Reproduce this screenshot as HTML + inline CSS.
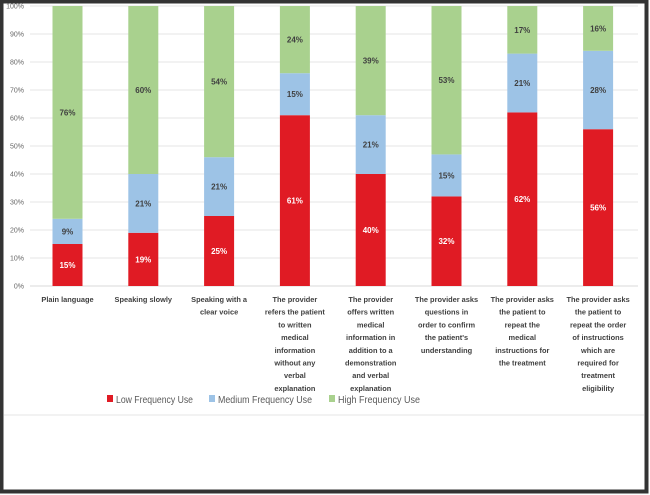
<!DOCTYPE html>
<html><head><meta charset="utf-8"><style>
body{margin:0;background:#fff;}
#wrap{position:relative;width:650px;height:495px;overflow:hidden;}
svg text{font-family:"Liberation Sans",sans-serif;}
</style></head><body>
<div id="wrap">
<svg id="chart" width="650" height="495">
<rect x="1.5" y="1.5" width="645" height="490" fill="#fff" stroke="#333" stroke-width="4"/>
<line x1="4" y1="415" x2="644" y2="415" stroke="#eee" stroke-width="1.5"/>
</svg>
</div>
<script>
const categories=[["Plain language"],["Speaking slowly"],["Speaking with a","clear voice"],["The provider","refers the patient","to written","medical","information","without any","verbal","explanation"],["The provider","offers written","medical","information in","addition to a","demonstration","and verbal","explanation"],["The provider asks","questions in","order to confirm","the patient's","understanding"],["The provider asks","the patient to","repeat the","medical","instructions for","the treatment"],["The provider asks","the patient to","repeat the order","of instructions","which are","required for","treatment","eligibility"]];
const lowValues=[15,19,25,61,40,32,62,56];
const mediumValues=[9,21,21,15,21,15,21,28];
const highValues=[76,60,54,24,39,53,17,16];
const yTicks=[0,10,20,30,40,50,60,70,80,90,100];
const seriesNames=["Low Frequency Use","Medium Frequency Use","High  Frequency Use"];

const NS="http://www.w3.org/2000/svg";
const svg=document.getElementById('chart');
const y0=286,y1=6,plotL=30,plotR=638;
const yScale=v=>y0-(y0-y1)*v/100;
const xCenter=i=>67.5+i*75.8;
const barW=30;
const colors=["#e01b24","#9dc3e6","#a9d18e"];
const labelColors=["#fff","#404040","#404040"];
function mk(tag,attrs){const e=document.createElementNS(NS,tag);for(const k in attrs)e.setAttribute(k,attrs[k]);svg.appendChild(e);return e;}

yTicks.forEach(t=>{
  const y=yScale(t);
  const g=mk('line',{x1:plotL,x2:plotR,y1:y,y2:y,stroke:t===0?'#d9d9d9':'#e6e6e6','stroke-width':1});
  
  
  const tx=mk('text',{x:24,y:y+2.5,'text-anchor':'end','font-size':7,fill:'#666'});
  tx.textContent=t+'%';
  
  
});

const series=[lowValues,mediumValues,highValues];
categories.forEach((cat,i)=>{
  let acc=0;
  series.forEach((arr,s)=>{
    const v=arr[i];
    const yt=yScale(acc+v),yb=yScale(acc);
    const r=mk('rect',{x:xCenter(i)-barW/2,y:yt,width:barW,height:yb-yt,fill:colors[s]});
    
    
    const t=mk('text',{x:xCenter(i),y:(yt+yb)/2+3,'text-anchor':'middle','font-size':8,'font-weight':'bold',fill:labelColors[s]});
    t.textContent=v+'%';
    
    
    acc+=v;
  });
  cat.forEach((line,j)=>{
    const t=mk('text',{x:xCenter(i),y:302+j*12.7,'text-anchor':'middle','font-size':7.4,'font-weight':'bold',fill:'#404040'});
    t.textContent=line;
    
    
  });
});

const legX=[107,209,329];
const legW=[77,94,82];
seriesNames.forEach((n,s)=>{
  const r=mk('rect',{x:legX[s],y:395,width:6,height:7,fill:colors[s]});
  
  
  const t=mk('text',{x:legX[s]+9,y:403,'font-size':10.5,fill:'#595959',textLength:legW[s],lengthAdjust:'spacingAndGlyphs'});
  t.textContent=n;
  
  
});
</script>
</body></html>
